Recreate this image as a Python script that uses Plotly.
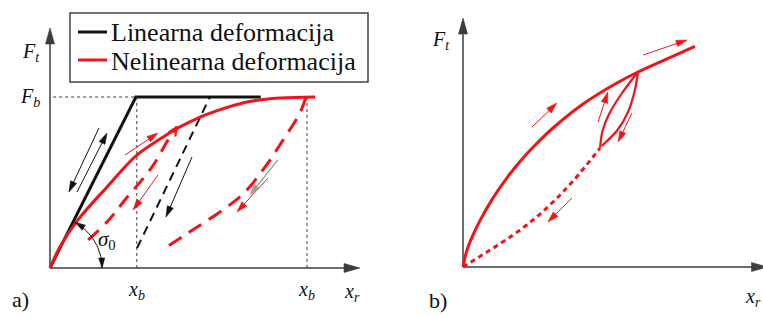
import math
import numpy as np
import plotly.graph_objects as go

RED = "#f01418"
BLACK = "#111111"
AXIS = "#3c3c3c"
GRAY = "#9c9c9c"
FONT = "Liberation Serif"
W_PX, H_PX = 763, 318

# ---------------- Panel a data (F_b = 10) ----------------
F_b = 10.0
x_b1 = 2.8
x_b2 = 8.29
xa_axis_end = 10.0
ya_axis_end = 14.04

lin_x = [0, 2.77, 6.8]
lin_y = [0, 10, 10]

nl_x = [0, 0.32, 0.90, 1.84, 2.81, 3.65, 4.19, 4.84, 5.26, 6.35, 7.42, 8.55]
nl_y = [0, 1.23, 2.81, 4.74, 6.61, 7.66, 8.25, 8.83, 9.12, 9.71, 9.94, 10.0]

reload_x = [1.23, 1.87, 2.39, 3.29, 3.81, 4.10]
reload_y = [1.64, 2.75, 3.92, 5.91, 7.49, 8.25]

lin_unload_x = [2.81, 5.16]
lin_unload_y = [1.17, 10.0]

nl_unload_x = [8.26, 8.06, 7.52, 6.94, 6.29, 5.71, 5.0, 4.35, 3.71]
nl_unload_y = [10.0, 9.06, 7.49, 5.91, 4.44, 3.57, 2.69, 1.93, 1.17]

# direction arrows (tail_x, tail_y, head_x, head_y)
a_black_arrows = [(1.58, 8.19, 0.61, 4.44), (0.87, 4.44, 1.84, 7.89), (4.58, 6.49, 3.74, 2.98)]
a_red_arrows = [(2.42, 6.61, 3.48, 7.89), (3.48, 5.44, 2.68, 3.39), (7.03, 5.26, 6.03, 3.27)]
a_gray_arrows = [(7.35, 6.32, 6.45, 4.27)]

sigma_deg = 61.0
sigma_r = (1.68, 3.04)

legend_labels = ["Linearna deformacija", "Nelinearna deformacija"]

# ---------------- Panel b data ----------------
xb_axis_end = 10.15
yb_axis_end = 12.45

b_load_x = [0, 0.13, 0.3, 0.57, 0.97, 1.47, 1.9, 2.4, 3.0, 4.0, 5.13, 5.83, 6.8, 7.73]
b_load_y = [0, 0.84, 1.49, 2.33, 3.38, 4.47, 5.28, 6.09, 6.95, 8.15, 9.2, 9.75, 10.41, 11.03]

b_unload_x = [0, 0.8, 1.57, 2.33, 3.0, 3.67, 4.57]
b_unload_y = [0, 0.75, 1.5, 2.35, 3.25, 4.3, 5.95]

b_loop_up_x = [4.57, 4.65, 4.87, 5.28, 5.83]
b_loop_up_y = [5.95, 6.8, 7.65, 8.65, 9.75]
b_loop_down_x = [5.83, 5.73, 5.5, 5.15, 4.62]
b_loop_down_y = [9.75, 8.85, 7.75, 6.85, 6.05]

b_red_arrows = [(2.3, 7.0, 3.13, 8.2), (6.0, 10.6, 7.47, 11.35), (4.5, 7.25, 4.83, 8.75),
                (5.63, 7.7, 5.17, 6.25), (3.63, 3.45, 2.83, 2.25)]

# ---------------- layout geometry (pixels per unit) ----------------
PANEL = {
    "a": dict(xa="x", ya="y", x0=50, y0=268, sx=31.0, sy=17.1, left=0, right=380),
    "b": dict(xa="x2", ya="y2", x0=463, y0=267, sx=30.0, sy=20.0, left=400, right=763),
}

fig = go.Figure()


def line(xs, ys, color, width, p="a", dash="solid", shape="linear", name=None):
    P = PANEL[p]
    fig.add_trace(go.Scatter(x=xs, y=ys, mode="lines", xaxis=P["xa"], yaxis=P["ya"],
                             line=dict(color=color, width=width, dash=dash, shape=shape, smoothing=1.0),
                             name=name, showlegend=False, hoverinfo="skip"))


def head(x0, y0, x1, y1, L, W, color, p="a", filled=True):
    P = PANEL[p]
    sx, sy = P["sx"], P["sy"]
    dx, dy = (x1 - x0) * sx, (y1 - y0) * sy
    n = math.hypot(dx, dy)
    ux, uy = dx / n, dy / n
    bx, by = -L * ux, -L * uy
    nx, ny = -uy, ux
    pts = [(bx + W / 2 * nx, by + W / 2 * ny), (0, 0), (bx - W / 2 * nx, by - W / 2 * ny)]
    hx = [x1 + a / sx for a, b in pts]
    hy = [y1 + b / sy for a, b in pts]
    if filled:
        fig.add_trace(go.Scatter(x=hx + [hx[0]], y=hy + [hy[0]], mode="lines", fill="toself",
                                 fillcolor=color, line=dict(color=color, width=0.6),
                                 xaxis=P["xa"], yaxis=P["ya"], showlegend=False, hoverinfo="skip"))
    else:
        fig.add_trace(go.Scatter(x=hx, y=hy, mode="lines", line=dict(color=color, width=2),
                                 xaxis=P["xa"], yaxis=P["ya"], showlegend=False, hoverinfo="skip"))
    return x1 + bx / sx * 0.6, y1 + by / sy * 0.6


def arrow(x0, y0, x1, y1, color, width, L, W, p="a"):
    bx, by = head(x0, y0, x1, y1, L, W, color, p)
    line([x0, bx], [y0, by], color, width, p)


# linear (black) first
line(lin_x, lin_y, BLACK, 3, name=legend_labels[0])

# panel a guides
line([0.1, x_b1], [F_b, F_b], AXIS, 1, dash="dot")
line([x_b1, x_b1], [0, F_b], AXIS, 1, dash="dot")
line([x_b2, x_b2], [0, F_b], AXIS, 1, dash="dot")

# axes a
arrow(0, 0, 0, ya_axis_end, AXIS, 1.5, 16, 9)
arrow(0, 0, xa_axis_end, 0, AXIS, 1.5, 16, 9)

line(lin_unload_x, lin_unload_y, BLACK, 2, dash="9px,6px")
line(reload_x, reload_y, RED, 3, dash="14px,9px", shape="spline")
line(nl_unload_x, nl_unload_y, RED, 3, dash="15px,9px", shape="spline")
line(nl_x, nl_y, RED, 3, shape="spline", name=legend_labels[1])

for t in a_black_arrows:
    arrow(*t, BLACK, 1, 11, 6.5)
for t in a_red_arrows:
    arrow(*t, RED, 1, 11, 6.5)
for t in a_gray_arrows:
    arrow(*t, GRAY, 1.3, 11, 6.5)
# open chevron head at the end of the reloading branch
head(reload_x[-2], reload_y[-2], reload_x[-1], reload_y[-1], 9, 8, RED, filled=False)

# sigma_0 angle arc with heads at both ends
th = np.radians(np.linspace(0, sigma_deg, 30))
arc_x = sigma_r[0] * np.cos(th)
arc_y = sigma_r[1] * np.sin(th)
line(list(arc_x), list(arc_y), BLACK, 1)
head(arc_x[2], arc_y[2], arc_x[0], arc_y[0], 10, 6, BLACK)
head(arc_x[-3], arc_y[-3], arc_x[-1], arc_y[-1], 10, 6, BLACK)

# ---------------- panel b ----------------
arrow(0, 0, 0, yb_axis_end, AXIS, 1.5, 16, 9, p="b")
arrow(0, 0, xb_axis_end, 0, AXIS, 1.5, 16, 9, p="b")
line(b_unload_x, b_unload_y, RED, 3, p="b", dash="5px,4px", shape="spline")
line(b_loop_up_x, b_loop_up_y, RED, 2.2, p="b", shape="spline")
line(b_loop_down_x, b_loop_down_y, RED, 2.2, p="b", shape="spline")
line(b_load_x, b_load_y, RED, 3, p="b", shape="spline")
for t in b_red_arrows:
    arrow(*t, RED, 1, 11, 6.5, p="b")


# ---------------- labels ----------------
def label(text, x, y, size=20, p="a"):
    P = PANEL[p]
    fig.add_annotation(text=text, x=x, y=y, xref=P["xa"], yref=P["ya"], showarrow=False,
                       font=dict(family=FONT, size=size, color=BLACK))


label("<i>F<sub>t</sub></i>", -0.6, 12.6)
label("<i>F<sub>b</sub></i>", -0.65, 9.95)
label("<i>x<sub>b</sub></i>", x_b1, -1.3)
label("<i>x<sub>b</sub></i>", x_b2, -1.3)
label("<i>x<sub>r</sub></i>", 9.75, -1.45)
label("a)", -0.95, -1.85, size=22)
label("<i>σ</i><sub>0</sub>", 1.85, 1.65, size=21)

label("<i>F<sub>t</sub></i>", -0.75, 11.35, p="b")
label("<i>x<sub>r</sub></i>", 9.65, -1.5, p="b")
label("b)", -0.85, -1.65, size=22, p="b")


# ---------------- manual legend box ----------------
def px(x):
    return x / W_PX


def py(y):
    return 1 - y / H_PX


fig.add_shape(type="rect", xref="paper", yref="paper", x0=px(70), x1=px(368), y0=py(82), y1=py(13),
              line=dict(color="#444444", width=1.5), fillcolor="white", layer="below")
for i, (lab, col) in enumerate(zip(legend_labels, [BLACK, RED])):
    yy = 32 + 28 * i
    fig.add_shape(type="line", xref="paper", yref="paper", x0=px(78), x1=px(107), y0=py(yy), y1=py(yy),
                  line=dict(color=col, width=3))
    fig.add_annotation(text=lab, xref="paper", yref="paper", x=px(109), y=py(yy + 1), xanchor="left",
                       yanchor="middle", showarrow=False, font=dict(family=FONT, size=26, color=BLACK))


def axis_range(P, key):
    if key == "x":
        return [(P["left"] - P["x0"]) / P["sx"], (P["right"] - P["x0"]) / P["sx"]]
    return [(P["y0"] - H_PX) / P["sy"], P["y0"] / P["sy"]]


A, B = PANEL["a"], PANEL["b"]
fig.update_layout(
    width=W_PX, height=H_PX, margin=dict(l=0, r=0, t=0, b=0, pad=0),
    paper_bgcolor="white", plot_bgcolor="rgba(0,0,0,0)",
    xaxis=dict(domain=[A["left"] / W_PX, A["right"] / W_PX], range=axis_range(A, "x"), visible=False),
    yaxis=dict(domain=[0, 1], range=axis_range(A, "y"), visible=False),
    xaxis2=dict(domain=[B["left"] / W_PX, B["right"] / W_PX], range=axis_range(B, "x"), visible=False,
                anchor="y2"),
    yaxis2=dict(domain=[0, 1], range=axis_range(B, "y"), visible=False, anchor="x2"),
    showlegend=False,
)

fig.write_html("out.html", config={"displayModeBar": False},
               post_script="document.body.style.margin='0px';")
